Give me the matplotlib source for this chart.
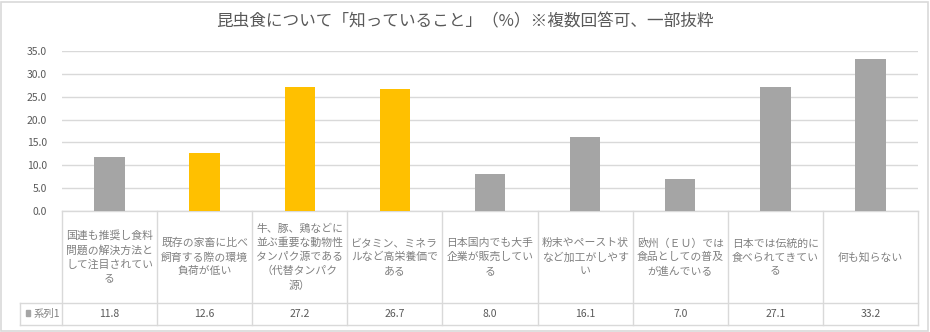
import matplotlib.pyplot as plt
from matplotlib.patches import Rectangle

plt.rcParams['font.family'] = ['Noto Sans CJK JP', 'DejaVu Sans']

categories = [
    "国連も推奨し食料\n問題の解決方法と\nして注目されてい\nる",
    "既存の家畜に比べ\n飼育する際の環境\n負荷が低い",
    "牛、豚、鶏などに\n並ぶ重要な動物性\nタンパク源である\n（代替タンパク\n源）",
    "ビタミン、ミネラ\nルなど高栄養価で\nある",
    "日本国内でも大手\n企業が販売してい\nる",
    "粉末やペースト状\nなど加工がしやす\nい",
    "欧州（ＥＵ）では\n食品としての普及\nが進んでいる",
    "日本では伝統的に\n食べられてきてい\nる",
    "何も知らない",
]
values = [11.8, 12.6, 27.2, 26.7, 8.0, 16.1, 7.0, 27.1, 33.2]
highlight = [False, True, True, True, False, False, False, False, False]
series_name = "系列1"
title = "昆虫食について「知っていること」（%）※複数回答可、一部抜粋"

GRAY = "#A5A5A5"
YELLOW = "#FFC000"
LINE = "#D9D9D9"
TXT = "#595959"

W, H = 930, 332
fig = plt.figure(figsize=(W / 100, H / 100), dpi=100)
fig.patches.append(Rectangle((1 / W, 1 / H), 1 - 3 / W, 1 - 3 / H, transform=fig.transFigure,
                             fill=False, edgecolor=LINE, linewidth=1.2))

left, right, top, bottom = 62, 918, 51, 211
ax = fig.add_axes([left / W, 1 - bottom / H, (right - left) / W, (bottom - top) / H])

n = len(values)
x = list(range(n))
colors = [YELLOW if h else GRAY for h in highlight]
ax.bar(x, values, width=0.32, color=colors, zorder=3)
ax.set_xlim(-0.5, n - 0.5)
ax.set_ylim(0, 35)
ax.set_yticks([0, 5, 10, 15, 20, 25, 30, 35])
ax.set_yticklabels([f"{v:.1f}" for v in ax.get_yticks()], color=TXT, fontsize=7.5)
ax.tick_params(axis='y', length=0, pad=11)
ax.set_xticks([])
ax.grid(axis='y', color=LINE, linewidth=1, zorder=0)
for s in ax.spines.values():
    s.set_visible(False)

fig.text(0.5, 1 - 22 / H, title, ha='center', va='center', fontsize=12, color=TXT)

# table below the axes
tr = ax.get_xaxis_transform()
y_head = -92 / 160
y_data = -114 / 160
x_leg = -0.5 - 42 / 95.1
kw = dict(transform=tr, clip_on=False, color=LINE, linewidth=1)
ax.plot([-0.5, n - 0.5], [0, 0], **kw)
ax.plot([x_leg, n - 0.5], [y_head, y_head], **kw)
ax.plot([x_leg, n - 0.5], [y_data, y_data], **kw)
ax.plot([x_leg, x_leg], [y_head, y_data], **kw)
for i in range(n + 1):
    ax.plot([i - 0.5, i - 0.5], [0, y_data], **kw)

for i, (c, v) in enumerate(zip(categories, values)):
    ax.text(i, y_head / 2, c, transform=tr, ha='center', va='center', fontsize=7.8,
            color="#808080", linespacing=1.45)
    ax.text(i, (y_head + y_data) / 2, f"{v:.1f}", transform=tr, ha='center', va='center',
            fontsize=7.5, color=TXT)

ax.add_patch(Rectangle((x_leg + 0.06, (y_head + y_data) / 2 - 0.012), 0.05, 0.035,
                       transform=tr, clip_on=False, color=GRAY))
ax.text(x_leg + 0.14, (y_head + y_data) / 2, series_name, transform=tr, ha='left',
        va='center', fontsize=7.5, color="#808080")

fig.savefig("out.png", dpi=100)
